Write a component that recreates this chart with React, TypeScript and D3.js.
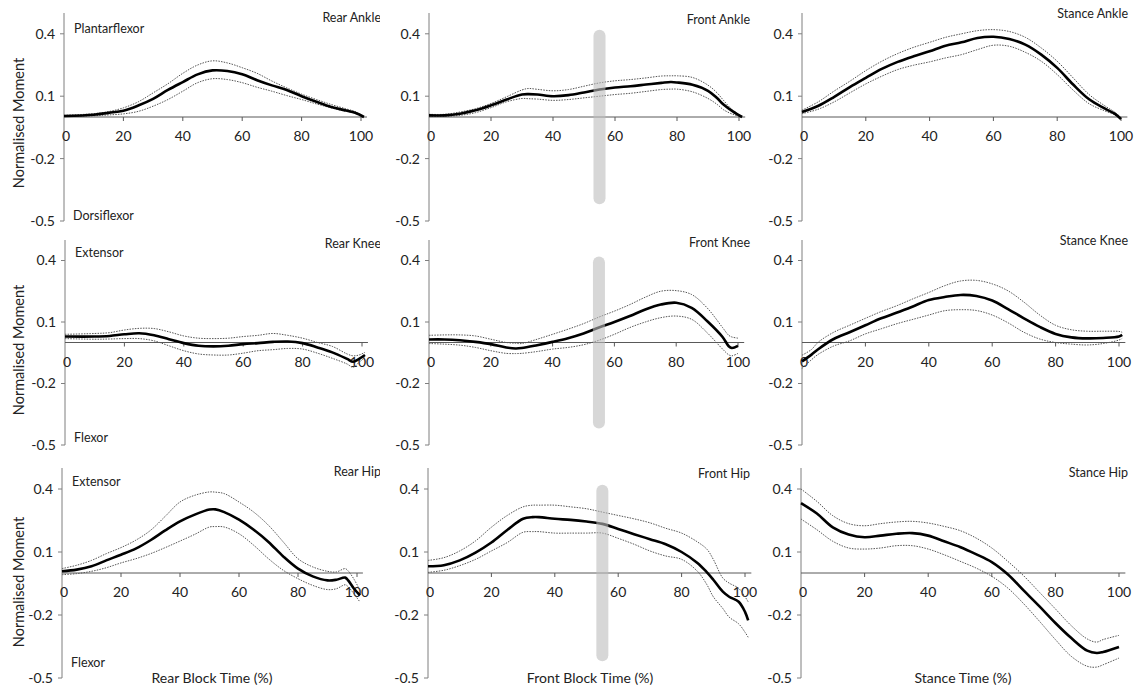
import React from 'react'
import * as d3 from 'd3'

// ---- data (normalised moment, % of phase) ----
const xTicks = [0, 20, 40, 60, 80, 100]
const yTicks = [0.4, 0.1, -0.2, -0.5]
const markerX = 55
const markerRange = [0.42, -0.42]

const rearAnkleX = [0, 10, 15, 20, 25, 30, 35, 40, 45, 50, 55, 60, 65, 70, 75, 80, 85, 90, 95, 98, 101]
const rearAnkleMean = [0.005, 0.011, 0.02, 0.03, 0.055, 0.087, 0.13, 0.168, 0.205, 0.224, 0.221, 0.205, 0.177, 0.152, 0.13, 0.1, 0.073, 0.048, 0.031, 0.02, 0]
const rearAnkleUpper = [0.008, 0.016, 0.026, 0.044, 0.073, 0.116, 0.16, 0.21, 0.25, 0.27, 0.26, 0.237, 0.21, 0.173, 0.14, 0.11, 0.084, 0.06, 0.039, 0.026, 0]
const rearAnkleLower = [0.003, 0.006, 0.01, 0.015, 0.027, 0.052, 0.084, 0.124, 0.165, 0.184, 0.18, 0.165, 0.143, 0.124, 0.103, 0.084, 0.063, 0.044, 0.027, 0.02, 0]

const frontAnkleX = [0, 5, 10, 15, 20, 25, 30, 32, 35, 40, 45, 50, 55, 60, 65, 70, 75, 78, 80, 85, 90, 93, 95, 98, 101]
const frontAnkleMean = [0.008, 0.008, 0.016, 0.032, 0.056, 0.084, 0.108, 0.11, 0.108, 0.1, 0.105, 0.118, 0.132, 0.142, 0.148, 0.156, 0.164, 0.168, 0.166, 0.155, 0.126, 0.09, 0.06, 0.027, 0]
const frontAnkleUpper = [0.013, 0.013, 0.024, 0.04, 0.065, 0.097, 0.13, 0.137, 0.133, 0.126, 0.132, 0.148, 0.164, 0.174, 0.18, 0.188, 0.197, 0.198, 0.198, 0.19, 0.153, 0.115, 0.08, 0.032, 0.003]
const frontAnkleLower = [0.003, 0.003, 0.008, 0.021, 0.045, 0.073, 0.089, 0.088, 0.086, 0.08, 0.084, 0.092, 0.1, 0.108, 0.114, 0.123, 0.132, 0.134, 0.134, 0.121, 0.089, 0.06, 0.035, 0.013, 0]

const stanceAnkleX = [0, 5, 10, 15, 20, 25, 30, 35, 40, 45, 50, 55, 60, 65, 70, 75, 80, 85, 90, 95, 98, 100]
const stanceAnkleMean = [0.024, 0.053, 0.096, 0.144, 0.188, 0.231, 0.265, 0.292, 0.316, 0.343, 0.359, 0.38, 0.386, 0.375, 0.348, 0.3, 0.236, 0.156, 0.085, 0.04, 0.016, -0.01]
const stanceAnkleUpper = [0.033, 0.072, 0.124, 0.172, 0.223, 0.268, 0.305, 0.335, 0.359, 0.383, 0.4, 0.415, 0.42, 0.411, 0.383, 0.332, 0.268, 0.188, 0.108, 0.053, 0.024, -0.003]
const stanceAnkleLower = [0.016, 0.037, 0.072, 0.116, 0.159, 0.196, 0.228, 0.249, 0.265, 0.284, 0.3, 0.324, 0.345, 0.34, 0.311, 0.268, 0.204, 0.129, 0.064, 0.029, 0.011, -0.008]

const rearKneeX = [0, 10, 15, 20, 25, 30, 35, 40, 45, 50, 55, 60, 65, 70, 75, 80, 85, 90, 95, 97, 99, 101]
const rearKneeMean = [0.029, 0.029, 0.032, 0.04, 0.045, 0.035, 0.016, -0.003, -0.016, -0.019, -0.016, -0.008, -0.003, 0.003, 0.005, -0.003, -0.024, -0.048, -0.08, -0.094, -0.08, -0.061]
const rearKneeUpper = [0.04, 0.044, 0.048, 0.061, 0.069, 0.068, 0.052, 0.032, 0.021, 0.019, 0.021, 0.029, 0.035, 0.044, 0.035, 0.021, 0, -0.019, -0.056, -0.065, -0.061, -0.048]
const rearKneeLower = [0.019, 0.016, 0.017, 0.019, 0.019, 0.008, -0.016, -0.04, -0.056, -0.061, -0.061, -0.052, -0.04, -0.035, -0.029, -0.032, -0.052, -0.077, -0.105, -0.121, -0.097, -0.073]

const frontKneeX = [0, 5, 10, 15, 20, 25, 28, 30, 35, 40, 45, 50, 55, 60, 65, 70, 75, 80, 85, 90, 95, 97, 98, 100]
const frontKneeMean = [0.015, 0.015, 0.011, 0.003, -0.008, -0.024, -0.029, -0.027, -0.013, 0.003, 0.021, 0.044, 0.073, 0.1, 0.129, 0.161, 0.185, 0.194, 0.169, 0.105, 0.027, -0.018, -0.027, -0.016]
const frontKneeUpper = [0.035, 0.037, 0.037, 0.032, 0.016, 0, -0.004, -0.005, 0.016, 0.04, 0.065, 0.092, 0.124, 0.153, 0.185, 0.221, 0.25, 0.253, 0.234, 0.169, 0.073, 0.035, 0.027, 0.021]
const frontKneeLower = [-0.005, -0.008, -0.013, -0.024, -0.04, -0.053, -0.054, -0.053, -0.044, -0.032, -0.024, -0.011, 0.011, 0.04, 0.073, 0.1, 0.121, 0.129, 0.113, 0.048, -0.032, -0.06, -0.065, -0.053]

const stanceKneeX = [0, 3, 5, 10, 15, 20, 25, 30, 35, 40, 45, 50, 55, 60, 65, 70, 75, 80, 85, 90, 95, 100, 101]
const stanceKneeMean = [-0.092, -0.059, -0.034, 0.017, 0.05, 0.084, 0.118, 0.146, 0.176, 0.207, 0.222, 0.232, 0.227, 0.205, 0.163, 0.118, 0.076, 0.042, 0.025, 0.02, 0.022, 0.029, 0.037]
const stanceKneeUpper = [-0.062, -0.034, 0, 0.05, 0.084, 0.118, 0.151, 0.18, 0.213, 0.244, 0.277, 0.3, 0.303, 0.286, 0.252, 0.197, 0.134, 0.084, 0.062, 0.055, 0.055, 0.054, 0.05]
const stanceKneeLower = [-0.126, -0.084, -0.059, -0.017, 0.008, 0.042, 0.067, 0.092, 0.113, 0.134, 0.155, 0.16, 0.156, 0.134, 0.096, 0.05, 0.017, 0, -0.008, -0.012, -0.005, 0.012, 0.02]

const rearHipX = [0, 5, 10, 15, 20, 25, 30, 35, 40, 45, 50, 52, 55, 60, 65, 70, 75, 80, 85, 90, 93, 96, 97, 99, 101]
const rearHipMean = [0.008, 0.016, 0.032, 0.06, 0.087, 0.116, 0.156, 0.203, 0.246, 0.278, 0.302, 0.303, 0.29, 0.254, 0.206, 0.148, 0.079, 0.021, -0.016, -0.035, -0.032, -0.022, -0.035, -0.075, -0.106]
const rearHipUpper = [0.021, 0.037, 0.06, 0.092, 0.121, 0.156, 0.203, 0.27, 0.338, 0.37, 0.386, 0.385, 0.378, 0.338, 0.29, 0.227, 0.148, 0.068, 0.029, 0.008, 0.005, 0.021, 0.01, -0.03, -0.083]
const rearHipLower = [-0.008, -0.003, 0.008, 0.025, 0.048, 0.068, 0.092, 0.121, 0.152, 0.184, 0.219, 0.221, 0.219, 0.187, 0.132, 0.068, 0.013, -0.027, -0.059, -0.079, -0.075, -0.056, -0.065, -0.1, -0.138]

const frontHipX = [0, 5, 10, 15, 20, 25, 30, 33, 35, 40, 45, 50, 55, 60, 65, 70, 75, 80, 85, 88, 90, 93, 95, 98, 100, 101]
const frontHipMean = [0.032, 0.037, 0.06, 0.097, 0.145, 0.205, 0.258, 0.266, 0.266, 0.258, 0.253, 0.245, 0.234, 0.21, 0.185, 0.161, 0.137, 0.1, 0.048, 0.003, -0.032, -0.089, -0.113, -0.137, -0.185, -0.226]
const frontHipUpper = [0.06, 0.073, 0.105, 0.153, 0.218, 0.274, 0.315, 0.323, 0.323, 0.323, 0.315, 0.306, 0.29, 0.274, 0.258, 0.239, 0.213, 0.19, 0.148, 0.113, 0.065, -0.024, -0.048, -0.073, -0.113, -0.137]
const frontHipLower = [0.003, 0.013, 0.035, 0.065, 0.105, 0.145, 0.194, 0.197, 0.197, 0.19, 0.19, 0.19, 0.19, 0.165, 0.137, 0.105, 0.081, 0.065, 0.008, -0.056, -0.113, -0.169, -0.21, -0.242, -0.282, -0.306]

const stanceHipX = [0, 5, 10, 15, 20, 25, 30, 35, 40, 45, 50, 55, 60, 65, 70, 75, 80, 85, 90, 93, 95, 100]
const stanceHipMean = [0.333, 0.283, 0.217, 0.183, 0.17, 0.178, 0.187, 0.19, 0.178, 0.151, 0.124, 0.09, 0.052, -0.006, -0.083, -0.159, -0.238, -0.31, -0.37, -0.381, -0.376, -0.352]
const stanceHipUpper = [0.4, 0.341, 0.273, 0.235, 0.225, 0.235, 0.243, 0.246, 0.238, 0.222, 0.202, 0.167, 0.119, 0.056, -0.013, -0.092, -0.171, -0.251, -0.314, -0.329, -0.317, -0.297]
const stanceHipLower = [0.257, 0.206, 0.151, 0.119, 0.114, 0.119, 0.13, 0.13, 0.114, 0.087, 0.056, 0.024, -0.016, -0.071, -0.146, -0.23, -0.317, -0.397, -0.444, -0.448, -0.437, -0.405]

const panelTitles = ['Rear Ankle', 'Front Ankle', 'Stance Ankle', 'Rear Knee', 'Front Knee', 'Stance Knee', 'Rear Hip', 'Front Hip', 'Stance Hip']
const upperLabels = ['Plantarflexor', 'Extensor', 'Extensor']
const lowerLabels = ['Dorsiflexor', 'Flexor', 'Flexor']
const xTitles = ['Rear Block Time (%)', 'Front Block Time (%)', 'Stance Time (%)']
const yTitle = 'Normalised Moment'

const series = [
  [rearAnkleX, rearAnkleMean, rearAnkleUpper, rearAnkleLower],
  [frontAnkleX, frontAnkleMean, frontAnkleUpper, frontAnkleLower],
  [stanceAnkleX, stanceAnkleMean, stanceAnkleUpper, stanceAnkleLower],
  [rearKneeX, rearKneeMean, rearKneeUpper, rearKneeLower],
  [frontKneeX, frontKneeMean, frontKneeUpper, frontKneeLower],
  [stanceKneeX, stanceKneeMean, stanceKneeUpper, stanceKneeLower],
  [rearHipX, rearHipMean, rearHipUpper, rearHipLower],
  [frontHipX, frontHipMean, frontHipUpper, frontHipLower],
  [stanceHipX, stanceHipMean, stanceHipUpper, stanceHipLower],
]

// ---- layout ----
const W = 1147
const H = 693
// y-axis position and pixel of x=100 per panel
const axisLeft = [64, 429, 802, 65, 429, 802, 62, 428, 801]
const axisX100 = [361, 739, 1121, 362, 738, 1119, 357, 745, 1119]
const rowTop = [13, 240, 468]
const rowBottom = [221, 445, 678]
const titleBase = [[22, 24, 18], [248, 247, 245], [476, 478, 477]]
const titleRight = [381, 750, 1128]
const upperLabelBase = [33, 257, 486]
const lowerLabelBase = [220, 442, 667]
const FONT = 'Lato, "Open Sans", sans-serif'

function Panel({ i }: { i: number }) {
  const row = Math.floor(i / 3)
  const col = i % 3
  const [xs, mean, upper, lower] = series[i]
  const x = d3.scaleLinear().domain([0, 100]).range([axisLeft[i], axisX100[i]])
  const y = d3.scaleLinear().domain([-0.5, 0.5]).range([rowBottom[row], rowTop[row]])
  const mk = (vals: number[]) =>
    d3.line<number>().x((_, k) => x(xs[k])).y(v => y(v)).curve(d3.curveCatmullRom.alpha(0.5))(vals) || ''
  const x0 = x(0)
  const y0 = y(0)
  const clip = col === 0 ? `url(#clipL${row})` : undefined

  return (
    <g clipPath={clip}>
      {col === 0 && (
        <defs>
          <clipPath id={`clipL${row}`}>
            <rect x={0} y={rowTop[row] - 20} width={380} height={rowBottom[row] - rowTop[row] + 40} />
          </clipPath>
        </defs>
      )}
      {/* y axis */}
      <line x1={x0} x2={x0} y1={y(0.5)} y2={y(-0.5)} stroke="#7f7f7f" strokeWidth={1} />
      {yTicks.map(t => (
        <g key={t}>
          <line x1={x0 - 4} x2={x0} y1={y(t)} y2={y(t)} stroke="#7f7f7f" />
          <text x={x0 - 9} y={y(t)} dy="0.35em" textAnchor="end" fontSize={14} fill="#222">{t}</text>
        </g>
      ))}
      {/* x axis at zero */}
      <line x1={x0} x2={x(102)} y1={y0} y2={y0} stroke="#595959" strokeWidth={1} />
      {xTicks.map(t => (
        <g key={t}>
          {t > 0 && <line x1={x(t)} x2={x(t)} y1={y0} y2={y0 + 4} stroke="#595959" />}
          <text x={x(t) + (t === 0 ? 2 : 0)} y={y0 + 24} textAnchor="middle" fontSize={14} fill="#222">{t}</text>
        </g>
      ))}
      {/* SD bands and mean */}
      <path d={mk(upper)} fill="none" stroke="#555" strokeWidth={1} strokeDasharray="1.5 1.2" />
      <path d={mk(lower)} fill="none" stroke="#555" strokeWidth={1} strokeDasharray="1.5 1.2" />
      <path d={mk(mean)} fill="none" stroke="#000" strokeWidth={2.6} />
      {col === 1 && (
        <rect x={x(markerX) - 6} width={12} y={y(markerRange[0])} height={y(markerRange[1]) - y(markerRange[0])}
          rx={6} fill="#bdbdbd" fillOpacity={0.6} />
      )}
      <text x={titleRight[col]} y={titleBase[row][col]} textAnchor="end" fontSize={12.5} fill="#222">{panelTitles[i]}</text>
      {col === 0 && (
        <>
          <text x={x0 + 10} y={upperLabelBase[row]} fontSize={12.5} fill="#222">{upperLabels[row]}</text>
          <text x={x0 + 9} y={lowerLabelBase[row]} fontSize={12.5} fill="#222">{lowerLabels[row]}</text>
        </>
      )}
    </g>
  )
}

export default function App() {
  const yTitleCenters = [123, 350, 582]
  const xTitleCenters = [212, 590, 963]
  return (
    <svg width={W} height={H} style={{ position: 'absolute', left: 0, top: 0, background: '#fff' }} fontFamily={FONT}>
      {panelTitles.map((_, i) => <Panel key={i} i={i} />)}
      {yTitleCenters.map((cy, r) => (
        <text key={r} transform={`translate(24,${cy}) rotate(-90)`} textAnchor="middle" fontSize={14.5} fill="#222">{yTitle}</text>
      ))}
      {xTitles.map((t, c) => (
        <text key={t} x={xTitleCenters[c]} y={683} textAnchor="middle" fontSize={14} fill="#222">{t}</text>
      ))}
    </svg>
  )
}
